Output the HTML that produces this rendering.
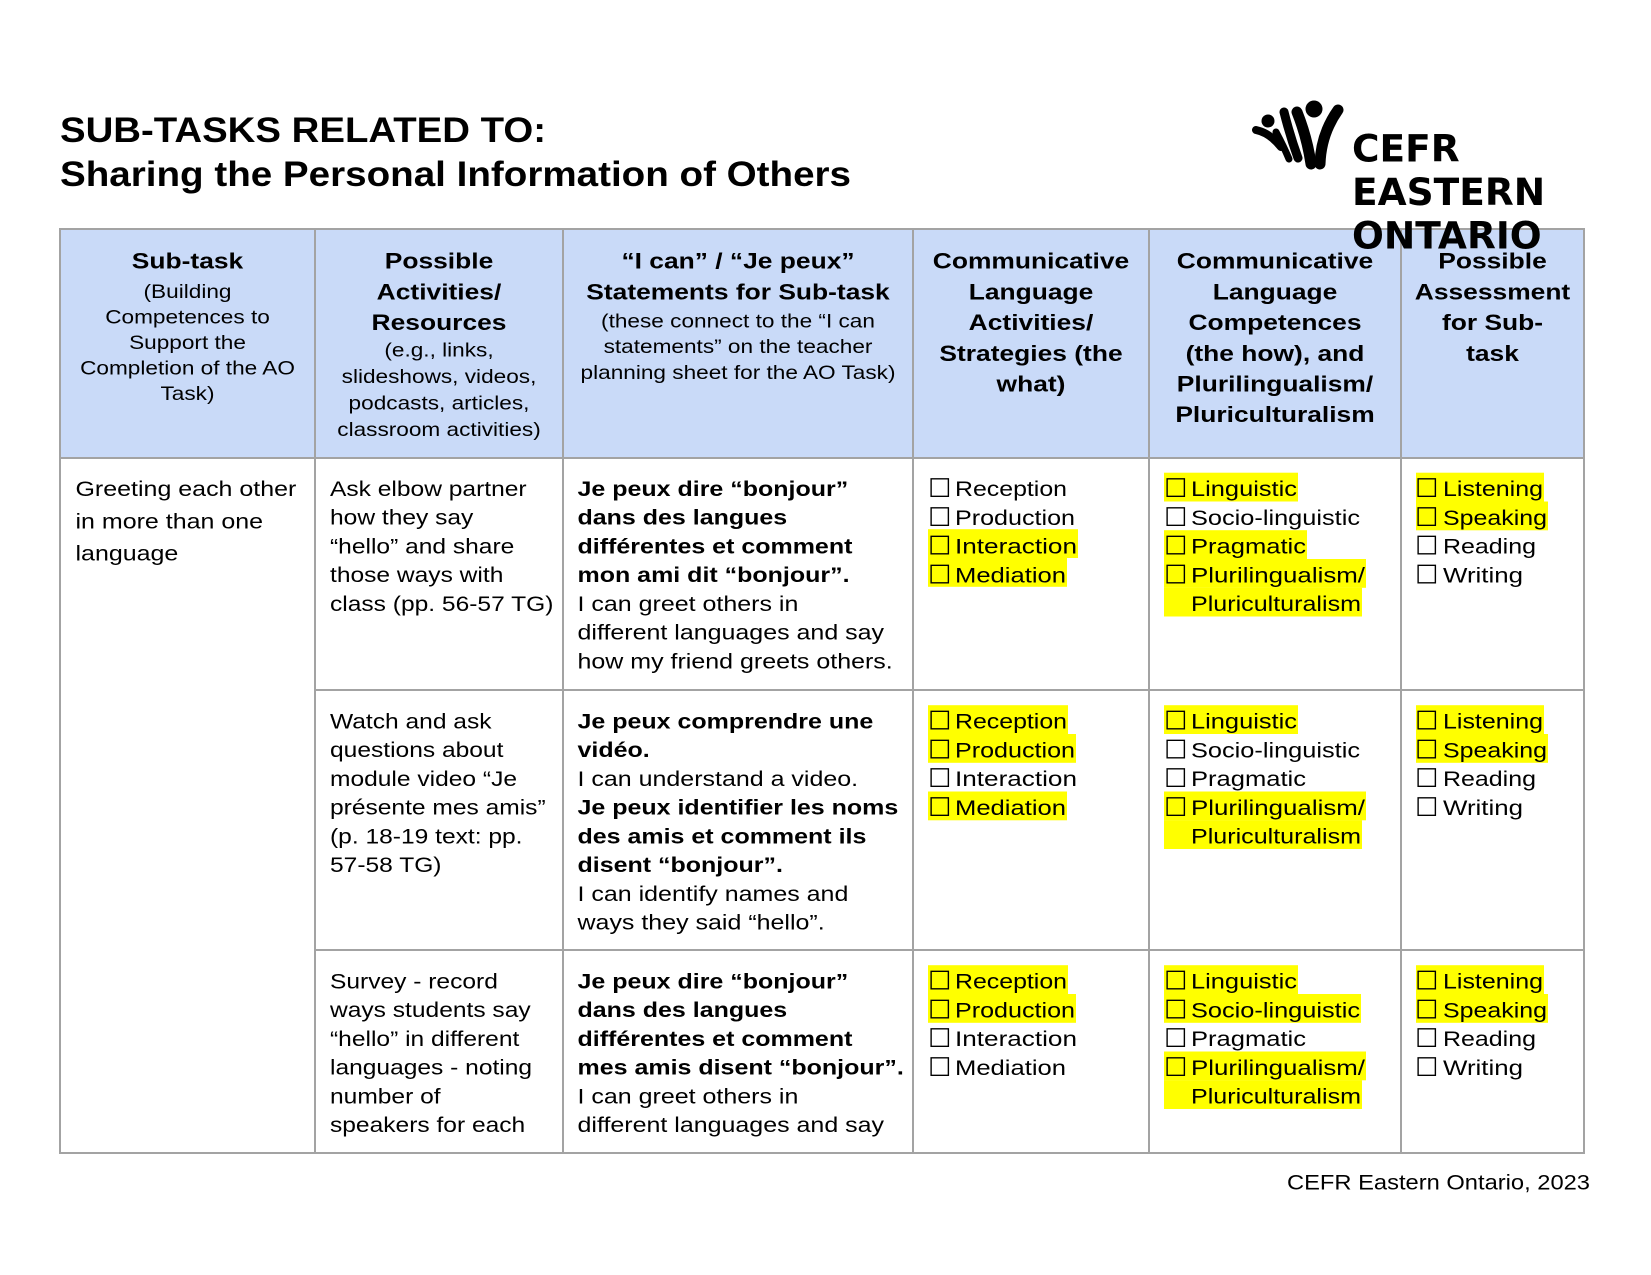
<!DOCTYPE html>
<html><head><meta charset="utf-8"><style>
html,body{margin:0;padding:0;background:#fff;}
svg{display:block;}
text{font-family:"Liberation Sans",Arial,sans-serif;fill:#000;}
.t{font-size:21px;}
.b{font-weight:bold;}
.h{font-size:22px;font-weight:bold;}
.s{font-size:19px;}
.cb{font-family:"DejaVu Sans",sans-serif;font-size:26px;}
.logo{font-family:"DejaVu Sans",sans-serif;font-weight:bold;font-size:37.5px;}
</style></head><body>
<svg width="1651" height="1275" viewBox="0 0 1651 1275" xmlns="http://www.w3.org/2000/svg">
<rect x="0" y="0" width="1651" height="1275" fill="#fff"/>

<!-- Title -->
<text x="60" y="142" class="b" font-size="35" textLength="486" lengthAdjust="spacingAndGlyphs">SUB-TASKS RELATED TO:</text>
<text x="60" y="186" class="b" font-size="35" textLength="791" lengthAdjust="spacingAndGlyphs">Sharing the Personal Information of Others</text>

<!-- Table header bg -->
<rect x="60" y="229" width="1524" height="229" fill="#c9daf8"/>

<!-- Highlights -->
<g fill="#ffff00">
<!-- row1 -->
<rect x="928" y="529.2" width="150" height="28.8"/>
<rect x="928" y="558" width="139" height="28.8"/>
<rect x="1164" y="472.7" width="134" height="28.8"/>
<rect x="1164" y="530.2" width="143" height="28.8"/>
<rect x="1164" y="559" width="202" height="28.8"/>
<rect x="1164" y="587.7" width="198" height="28.8"/>
<rect x="1416" y="472.7" width="128" height="28.8"/>
<rect x="1416" y="501.5" width="132" height="28.8"/>
<!-- row2 -->
<rect x="928" y="705.2" width="140" height="28.8"/>
<rect x="928" y="734" width="148" height="28.8"/>
<rect x="928" y="791.5" width="139" height="28.8"/>
<rect x="1164" y="705.2" width="134" height="28.8"/>
<rect x="1164" y="791.5" width="202" height="28.8"/>
<rect x="1164" y="820.2" width="198" height="28.8"/>
<rect x="1416" y="705.2" width="128" height="28.8"/>
<rect x="1416" y="734" width="132" height="28.8"/>
<!-- row3 -->
<rect x="928" y="965.2" width="140" height="28.8"/>
<rect x="928" y="994" width="148" height="28.8"/>
<rect x="1164" y="965.2" width="134" height="28.8"/>
<rect x="1164" y="994" width="197" height="28.8"/>
<rect x="1164" y="1051.5" width="202" height="28.8"/>
<rect x="1164" y="1080.2" width="198" height="28.8"/>
<rect x="1416" y="965.2" width="128" height="28.8"/>
<rect x="1416" y="994" width="132" height="28.8"/>
</g>

<!-- Table borders -->
<g stroke="#a3a3a3" stroke-width="2" fill="none">
<rect x="60" y="229" width="1524" height="924"/>
<line x1="60" y1="458" x2="1584" y2="458"/>
<line x1="315" y1="690" x2="1584" y2="690"/>
<line x1="315" y1="950" x2="1584" y2="950"/>
<line x1="315" y1="229" x2="315" y2="1153"/>
<line x1="563" y1="229" x2="563" y2="1153"/>
<line x1="913" y1="229" x2="913" y2="1153"/>
<line x1="1149" y1="229" x2="1149" y2="1153"/>
<line x1="1401" y1="229" x2="1401" y2="1153"/>
</g>

<!-- Header text -->
<g transform="translate(187.5,0) scale(1.2,1)" text-anchor="middle">
<text x="0" y="268.7" class="h">Sub-task</text>
</g>
<g transform="translate(187.5,0) scale(1.19,1)" text-anchor="middle" class="s">
<text x="0" y="298" class="s">(Building</text>
<text x="0" y="323.5" class="s">Competences to</text>
<text x="0" y="349" class="s">Support the</text>
<text x="0" y="374.5" class="s">Completion of the AO</text>
<text x="0" y="400" class="s">Task)</text>
</g>
<g transform="translate(439,0) scale(1.2,1)" text-anchor="middle">
<text x="0" y="268.7" class="h">Possible</text>
<text x="0" y="299.4" class="h">Activities/</text>
<text x="0" y="330.1" class="h">Resources</text>
</g>
<g transform="translate(439,0) scale(1.19,1)" text-anchor="middle">
<text x="0" y="356.5" class="s">(e.g., links,</text>
<text x="0" y="383" class="s">slideshows, videos,</text>
<text x="0" y="409.5" class="s">podcasts, articles,</text>
<text x="0" y="436" class="s">classroom activities)</text>
</g>
<g transform="translate(738,0) scale(1.2,1)" text-anchor="middle">
<text x="0" y="268.7" class="h">“I can” / “Je peux”</text>
<text x="0" y="299.4" class="h">Statements for Sub-task</text>
</g>
<g transform="translate(738,0) scale(1.19,1)" text-anchor="middle">
<text x="0" y="327.5" class="s">(these connect to the “I can</text>
<text x="0" y="353.2" class="s">statements” on the teacher</text>
<text x="0" y="378.9" class="s">planning sheet for the AO Task)</text>
</g>
<g transform="translate(1031,0) scale(1.2,1)" text-anchor="middle">
<text x="0" y="268.7" class="h">Communicative</text>
<text x="0" y="299.4" class="h">Language</text>
<text x="0" y="330.1" class="h">Activities/</text>
<text x="0" y="360.8" class="h">Strategies (the</text>
<text x="0" y="391.5" class="h">what)</text>
</g>
<g transform="translate(1275,0) scale(1.2,1)" text-anchor="middle">
<text x="0" y="268.7" class="h">Communicative</text>
<text x="0" y="299.4" class="h">Language</text>
<text x="0" y="330.1" class="h">Competences</text>
<text x="0" y="360.8" class="h">(the how), and</text>
<text x="0" y="391.5" class="h">Plurilingualism/</text>
<text x="0" y="422.2" class="h">Pluriculturalism</text>
</g>
<g transform="translate(1492.5,0) scale(1.2,1)" text-anchor="middle">
<text x="0" y="268.7" class="h">Possible</text>
<text x="0" y="299.4" class="h">Assessment</text>
<text x="0" y="330.1" class="h">for Sub-</text>
<text x="0" y="360.8" class="h">task</text>
</g>

<!-- Column 1 -->
<g transform="translate(75.5,0) scale(1.19,1)">
<text x="0" y="496" class="t">Greeting each other</text>
<text x="0" y="528.3" class="t">in more than one</text>
<text x="0" y="560.5" class="t">language</text>
</g>

<!-- Column 2 -->
<g transform="translate(330,0) scale(1.17,1)">
<text x="0" y="496" class="t">Ask elbow partner</text>
<text x="0" y="524.75" class="t">how they say</text>
<text x="0" y="553.5" class="t">“hello” and share</text>
<text x="0" y="582.25" class="t">those ways with</text>
<text x="0" y="611" class="t">class (pp. 56-57 TG)</text>

<text x="0" y="728.5" class="t">Watch and ask</text>
<text x="0" y="757.25" class="t">questions about</text>
<text x="0" y="786" class="t">module video “Je</text>
<text x="0" y="814.75" class="t">présente mes amis”</text>
<text x="0" y="843.5" class="t">(p. 18-19 text: pp.</text>
<text x="0" y="872.25" class="t">57-58 TG)</text>

<text x="0" y="988.5" class="t">Survey - record</text>
<text x="0" y="1017.25" class="t">ways students say</text>
<text x="0" y="1046" class="t">“hello” in different</text>
<text x="0" y="1074.75" class="t">languages - noting</text>
<text x="0" y="1103.5" class="t">number of</text>
<text x="0" y="1132.25" class="t">speakers for each</text>
</g>

<!-- Column 3 -->
<g transform="translate(577.5,0) scale(1.19,1)">
<text x="0" y="496" class="t b">Je peux dire “bonjour”</text>
<text x="0" y="524.75" class="t b">dans des langues</text>
<text x="0" y="553.5" class="t b">différentes et comment</text>
<text x="0" y="582.25" class="t b">mon ami dit “bonjour”.</text>
<text x="0" y="611" class="t">I can greet others in</text>
<text x="0" y="639.75" class="t">different languages and say</text>
<text x="0" y="668.5" class="t">how my friend greets others.</text>

<text x="0" y="728.5" class="t b">Je peux comprendre une</text>
<text x="0" y="757.25" class="t b">vidéo.</text>
<text x="0" y="786" class="t">I can understand a video.</text>
<text x="0" y="814.75" class="t b">Je peux identifier les noms</text>
<text x="0" y="843.5" class="t b">des amis et comment ils</text>
<text x="0" y="872.25" class="t b">disent “bonjour”.</text>
<text x="0" y="901" class="t">I can identify names and</text>
<text x="0" y="929.75" class="t">ways they said “hello”.</text>

<text x="0" y="988.5" class="t b">Je peux dire “bonjour”</text>
<text x="0" y="1017.25" class="t b">dans des langues</text>
<text x="0" y="1046" class="t b">différentes et comment</text>
<text x="0" y="1074.75" class="t b">mes amis disent “bonjour”.</text>
<text x="0" y="1103.5" class="t">I can greet others in</text>
<text x="0" y="1132.25" class="t">different languages and say</text>
</g>

<!-- Checkboxes -->
<g class="cb">
<!-- row1 -->
<text x="928" y="497" class="cb">☐</text><text x="928" y="525.75" class="cb">☐</text><text x="928" y="554.5" class="cb">☐</text><text x="928" y="583.25" class="cb">☐</text>
<text x="1164" y="497" class="cb">☐</text><text x="1164" y="525.75" class="cb">☐</text><text x="1164" y="554.5" class="cb">☐</text><text x="1164" y="583.25" class="cb">☐</text>
<text x="1415" y="497" class="cb">☐</text><text x="1415" y="525.75" class="cb">☐</text><text x="1415" y="554.5" class="cb">☐</text><text x="1415" y="583.25" class="cb">☐</text>
<!-- row2 -->
<text x="928" y="729.5" class="cb">☐</text><text x="928" y="758.25" class="cb">☐</text><text x="928" y="787" class="cb">☐</text><text x="928" y="815.75" class="cb">☐</text>
<text x="1164" y="729.5" class="cb">☐</text><text x="1164" y="758.25" class="cb">☐</text><text x="1164" y="787" class="cb">☐</text><text x="1164" y="815.75" class="cb">☐</text>
<text x="1415" y="729.5" class="cb">☐</text><text x="1415" y="758.25" class="cb">☐</text><text x="1415" y="787" class="cb">☐</text><text x="1415" y="815.75" class="cb">☐</text>
<!-- row3 -->
<text x="928" y="989.5" class="cb">☐</text><text x="928" y="1018.25" class="cb">☐</text><text x="928" y="1047" class="cb">☐</text><text x="928" y="1075.75" class="cb">☐</text>
<text x="1164" y="989.5" class="cb">☐</text><text x="1164" y="1018.25" class="cb">☐</text><text x="1164" y="1047" class="cb">☐</text><text x="1164" y="1075.75" class="cb">☐</text>
<text x="1415" y="989.5" class="cb">☐</text><text x="1415" y="1018.25" class="cb">☐</text><text x="1415" y="1047" class="cb">☐</text><text x="1415" y="1075.75" class="cb">☐</text>
</g>

<!-- Checkbox labels -->
<g class="t">
<!-- col4 -->
<text class="t" x="955" y="496" textLength="112" lengthAdjust="spacingAndGlyphs">Reception</text>
<text class="t" x="955" y="524.75" textLength="120" lengthAdjust="spacingAndGlyphs">Production</text>
<text class="t" x="955" y="553.5" textLength="122" lengthAdjust="spacingAndGlyphs">Interaction</text>
<text class="t" x="955" y="582.25" textLength="111" lengthAdjust="spacingAndGlyphs">Mediation</text>
<text class="t" x="955" y="728.5" textLength="112" lengthAdjust="spacingAndGlyphs">Reception</text>
<text class="t" x="955" y="757.25" textLength="120" lengthAdjust="spacingAndGlyphs">Production</text>
<text class="t" x="955" y="786" textLength="122" lengthAdjust="spacingAndGlyphs">Interaction</text>
<text class="t" x="955" y="814.75" textLength="111" lengthAdjust="spacingAndGlyphs">Mediation</text>
<text class="t" x="955" y="988.5" textLength="112" lengthAdjust="spacingAndGlyphs">Reception</text>
<text class="t" x="955" y="1017.25" textLength="120" lengthAdjust="spacingAndGlyphs">Production</text>
<text class="t" x="955" y="1046" textLength="122" lengthAdjust="spacingAndGlyphs">Interaction</text>
<text class="t" x="955" y="1074.75" textLength="111" lengthAdjust="spacingAndGlyphs">Mediation</text>
<!-- col5 -->
<text class="t" x="1191" y="496" textLength="106" lengthAdjust="spacingAndGlyphs">Linguistic</text>
<text class="t" x="1191" y="524.75" textLength="169" lengthAdjust="spacingAndGlyphs">Socio-linguistic</text>
<text class="t" x="1191" y="553.5" textLength="115" lengthAdjust="spacingAndGlyphs">Pragmatic</text>
<text class="t" x="1191" y="582.25" textLength="174" lengthAdjust="spacingAndGlyphs">Plurilingualism/</text>
<text class="t" x="1191" y="611" textLength="170" lengthAdjust="spacingAndGlyphs">Pluriculturalism</text>
<text class="t" x="1191" y="728.5" textLength="106" lengthAdjust="spacingAndGlyphs">Linguistic</text>
<text class="t" x="1191" y="757.25" textLength="169" lengthAdjust="spacingAndGlyphs">Socio-linguistic</text>
<text class="t" x="1191" y="786" textLength="115" lengthAdjust="spacingAndGlyphs">Pragmatic</text>
<text class="t" x="1191" y="814.75" textLength="174" lengthAdjust="spacingAndGlyphs">Plurilingualism/</text>
<text class="t" x="1191" y="843.5" textLength="170" lengthAdjust="spacingAndGlyphs">Pluriculturalism</text>
<text class="t" x="1191" y="988.5" textLength="106" lengthAdjust="spacingAndGlyphs">Linguistic</text>
<text class="t" x="1191" y="1017.25" textLength="169" lengthAdjust="spacingAndGlyphs">Socio-linguistic</text>
<text class="t" x="1191" y="1046" textLength="115" lengthAdjust="spacingAndGlyphs">Pragmatic</text>
<text class="t" x="1191" y="1074.75" textLength="174" lengthAdjust="spacingAndGlyphs">Plurilingualism/</text>
<text class="t" x="1191" y="1103.5" textLength="170" lengthAdjust="spacingAndGlyphs">Pluriculturalism</text>
<!-- col6 -->
<text class="t" x="1443" y="496" textLength="100" lengthAdjust="spacingAndGlyphs">Listening</text>
<text class="t" x="1443" y="524.75" textLength="104" lengthAdjust="spacingAndGlyphs">Speaking</text>
<text class="t" x="1443" y="553.5" textLength="93" lengthAdjust="spacingAndGlyphs">Reading</text>
<text class="t" x="1443" y="582.25" textLength="80" lengthAdjust="spacingAndGlyphs">Writing</text>
<text class="t" x="1443" y="728.5" textLength="100" lengthAdjust="spacingAndGlyphs">Listening</text>
<text class="t" x="1443" y="757.25" textLength="104" lengthAdjust="spacingAndGlyphs">Speaking</text>
<text class="t" x="1443" y="786" textLength="93" lengthAdjust="spacingAndGlyphs">Reading</text>
<text class="t" x="1443" y="814.75" textLength="80" lengthAdjust="spacingAndGlyphs">Writing</text>
<text class="t" x="1443" y="988.5" textLength="100" lengthAdjust="spacingAndGlyphs">Listening</text>
<text class="t" x="1443" y="1017.25" textLength="104" lengthAdjust="spacingAndGlyphs">Speaking</text>
<text class="t" x="1443" y="1046" textLength="93" lengthAdjust="spacingAndGlyphs">Reading</text>
<text class="t" x="1443" y="1074.75" textLength="80" lengthAdjust="spacingAndGlyphs">Writing</text>
</g>

<!-- Footer -->
<text class="t" x="1287" y="1189.5" textLength="303" lengthAdjust="spacingAndGlyphs">CEFR Eastern Ontario, 2023</text>

<!-- Logo icon -->
<g fill="none" stroke="#000" stroke-linecap="round">
<path d="M1297,112 Q1307,137 1311,164" stroke-width="11"/>
<path d="M1338,110 Q1321,134 1320,164" stroke-width="11"/>
<path d="M1284,112 Q1290,136 1298,158" stroke-width="9"/>
<path d="M1256,130 Q1270,133 1281,147" stroke-width="8"/>
<path d="M1276,132 Q1284,147 1289,159" stroke-width="7"/>
</g>
<circle cx="1314" cy="109" r="8.5" fill="#000"/>
<circle cx="1268" cy="121" r="6.5" fill="#000"/>

<!-- Logo text -->
<text class="logo" x="1352" y="161.5">CEFR</text>
<text class="logo" x="1352" y="205">EASTERN</text>
<text class="logo" x="1352" y="248.5">ONTARIO</text>
</svg>
</body></html>
